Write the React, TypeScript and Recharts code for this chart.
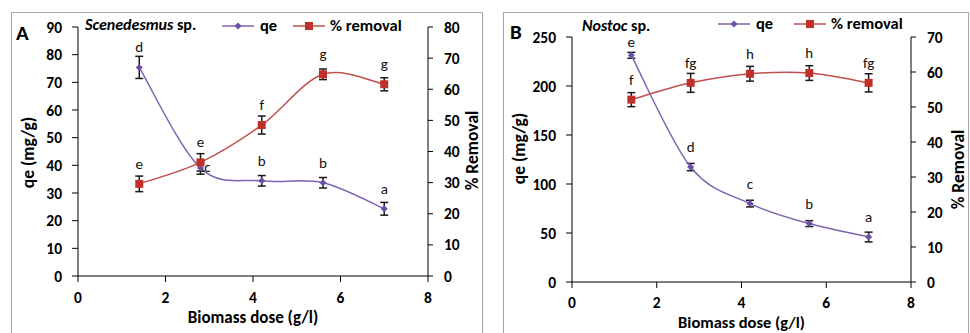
import { ComposedChart, Line, XAxis, YAxis, ErrorBar, LabelList, Label } from 'recharts';

const FONT = 'Carlito, Lato, "Open Sans", sans-serif';

const doses = [1.4, 2.8, 4.2, 5.6, 7.0];
const xTicks = [0, 2, 4, 6, 8];

// Scenedesmus sp.
const aQe = [75.4, 39.0, 34.4, 33.7, 24.3];
const aQeErr = [4.0, 2.2, 1.9, 1.9, 2.3];
const aQeLetters = ['d', 'c', 'b', 'b', 'a'];
const aRemoval = [29.6, 36.5, 48.5, 64.8, 61.6];
const aRemovalErr = [2.5, 2.8, 2.9, 1.7, 2.1];
const aRemovalLetters = ['e', 'e', 'f', 'g', 'g'];
const aQeTicks = [0, 10, 20, 30, 40, 50, 60, 70, 80, 90];
const aRemovalTicks = [0, 10, 20, 30, 40, 50, 60, 70, 80];

// Nostoc sp.
const bQe = [231.3, 117.3, 80.0, 59.6, 45.9];
const bQeErr = [3.0, 3.7, 3.4, 3.0, 5.0];
const bQeLetters = ['e', 'd', 'c', 'b', 'a'];
const bRemoval = [52.1, 56.9, 59.5, 59.7, 56.9];
const bRemovalErr = [2.0, 2.7, 2.1, 2.1, 2.6];
const bRemovalLetters = ['f', 'fg', 'h', 'h', 'fg'];
const bQeTicks = [0, 50, 100, 150, 200, 250];
const bRemovalTicks = [0, 10, 20, 30, 40, 50, 60, 70];

const QE_COLOR = '#7f63b3';
const QE_DOT = '#6a4fa3';
const REM_COLOR = '#c0504d';
const REM_DOT = '#c0302b';
const BAR_COLOR = '#1a1a1a';

// Excel-like smoothed line (Catmull-Rom as cubic beziers)
const excelSmooth = (context: any) => {
  let pts: number[][] = [];
  return {
    areaStart() {},
    areaEnd() {},
    lineStart() {
      pts = [];
    },
    point(x: number, y: number) {
      pts.push([+x, +y]);
    },
    lineEnd() {
      if (!pts.length) return;
      context.moveTo(pts[0][0], pts[0][1]);
      for (let i = 0; i < pts.length - 1; i++) {
        const p0 = pts[Math.max(i - 1, 0)];
        const p1 = pts[i];
        const p2 = pts[i + 1];
        const p3 = pts[Math.min(i + 2, pts.length - 1)];
        context.bezierCurveTo(
          p1[0] + (p2[0] - p0[0]) / 6,
          p1[1] + (p2[1] - p0[1]) / 6,
          p2[0] - (p3[0] - p1[0]) / 6,
          p2[1] - (p3[1] - p1[1]) / 6,
          p2[0],
          p2[1]
        );
      }
    },
  };
};

const diamondDot = (props: any) => {
  const { cx, cy, index } = props;
  const r = 3.5;
  return (
    <path
      key={`d-${index}`}
      d={`M${cx},${cy - r}L${cx + r},${cy}L${cx},${cy + r}L${cx - r},${cy}Z`}
      fill={QE_DOT}
    />
  );
};

const squareDot = (props: any) => {
  const { cx, cy, index } = props;
  return <rect key={`s-${index}`} x={cx - 4} y={cy - 4} width={8} height={8} fill={REM_DOT} />;
};

const letterLabel = (plotTop: number, sideIndex = -1) => (props: any) => {
  const x = props.x ?? props.viewBox?.x;
  const y = props.y ?? props.viewBox?.y;
  const { value, index } = props;
  let tx = x;
  let ty = Math.max(y - 15, plotTop + 10);
  if (index === sideIndex) {
    tx = x + 7;
    ty = y + 3.5;
  }
  return (
    <text key={`l-${index}`} x={tx} y={ty} textAnchor="middle" fontSize={15} fontFamily={FONT} fill="#111">
      {value}
    </text>
  );
};

const yTitle = (text: string, side: 'left' | 'right', inset: number, shift: number) => (props: any) => {
  const vb = props.viewBox;
  const cx = side === 'left' ? vb.x + inset : vb.x + vb.width - inset;
  const cy = vb.y + vb.height / 2 + shift;
  return (
    <text
      x={cx}
      y={cy}
      dy="0.36em"
      transform={`rotate(-90 ${cx} ${cy})`}
      textAnchor="middle"
      fontSize={17.5}
      fontWeight={700}
      fontFamily={FONT}
      fill="#000"
    >
      {text}
    </text>
  );
};

const xTitle = (below: number, size: number) => (props: any) => {
  const vb = props.viewBox;
  return (
    <text
      x={vb.x + vb.width / 2}
      y={vb.y + below}
      textAnchor="middle"
      fontSize={size}
      fontWeight={700}
      fontFamily={FONT}
      fill="#000"
    >
      Biomass dose (g/l)
    </text>
  );
};

const axisStroke = { stroke: '#000', strokeWidth: 1 };
const tickStyle = { fill: '#000', fontSize: 15.5, fontWeight: 700, fontFamily: FONT };

type PanelProps = {
  left: number;
  letter: string;
  species: string;
  qe: number[];
  qeErr: number[];
  qeLetters: string[];
  removal: number[];
  removalErr: number[];
  removalLetters: string[];
  qeTicks: number[];
  removalTicks: number[];
  margin: { top: number; right: number; bottom: number; left: number };
  leftWidth: number;
  rightWidth: number;
  xHeight: number;
  xTickMargin: number;
  xTitleBelow: number;
  xTitleSize: number;
  qeTitle: [number, number];
  remTitle: [number, number];
  sideIndex: number;
  border: [number, number];
  letterPos: [number, number];
  speciesPos: [number, number];
  legendY: number;
  legendQe: number;
  legendRem: number;
};

function Panel(p: PanelProps) {
  const data = doses.map((dose, i) => ({
    dose,
    qe: p.qe[i],
    qeErr: p.qeErr[i],
    qeLetter: p.qeLetters[i],
    removal: p.removal[i],
    removalErr: p.removalErr[i],
    removalLetter: p.removalLetters[i],
  }));
  const qeMax = p.qeTicks[p.qeTicks.length - 1];
  const remMax = p.removalTicks[p.removalTicks.length - 1];
  const ly = p.legendY;
  return (
    <div style={{ position: 'absolute', left: p.left, top: 0, width: 485, height: 333 }}>
      <ComposedChart width={485} height={333} data={data} margin={p.margin}>
        <XAxis
          type="number"
          dataKey="dose"
          domain={[0, 8]}
          ticks={xTicks}
          interval={0}
          height={p.xHeight}
          tickSize={6}
          tickMargin={p.xTickMargin}
          axisLine={axisStroke}
          tickLine={axisStroke}
          tick={tickStyle}
        >
          <Label content={xTitle(p.xTitleBelow, p.xTitleSize)} />
        </XAxis>
        <YAxis
          yAxisId="qe"
          domain={[0, qeMax]}
          ticks={p.qeTicks}
          interval={0}
          width={p.leftWidth}
          tickSize={6}
          tickMargin={10}
          axisLine={axisStroke}
          tickLine={axisStroke}
          tick={tickStyle}
        >
          <Label content={yTitle('qe (mg/g)', 'left', p.qeTitle[0], p.qeTitle[1])} />
        </YAxis>
        <YAxis
          yAxisId="rem"
          orientation="right"
          domain={[0, remMax]}
          ticks={p.removalTicks}
          interval={0}
          width={p.rightWidth}
          tickSize={5}
          tickMargin={11}
          axisLine={axisStroke}
          tickLine={axisStroke}
          tick={tickStyle}
        >
          <Label content={yTitle('% Removal', 'right', p.remTitle[0], p.remTitle[1])} />
        </YAxis>
        <Line
          yAxisId="qe"
          dataKey="qe"
          type={excelSmooth as any}
          stroke={QE_COLOR}
          strokeWidth={1.5}
          dot={diamondDot}
          activeDot={false}
          isAnimationActive={false}
        >
          <ErrorBar dataKey="qeErr" direction="y" width={4} stroke={BAR_COLOR} strokeWidth={1.5} />
          <LabelList dataKey="qeLetter" content={letterLabel(p.margin.top, p.sideIndex)} />
        </Line>
        <Line
          yAxisId="rem"
          dataKey="removal"
          type={excelSmooth as any}
          stroke={REM_COLOR}
          strokeWidth={1.5}
          dot={squareDot}
          activeDot={false}
          isAnimationActive={false}
        >
          <ErrorBar dataKey="removalErr" direction="y" width={4} stroke={BAR_COLOR} strokeWidth={1.5} />
          <LabelList dataKey="removalLetter" content={letterLabel(p.margin.top)} />
        </Line>
      </ComposedChart>
      <svg
        width={485}
        height={333}
        style={{ position: 'absolute', left: 0, top: 0, pointerEvents: 'none' }}
        fontFamily={FONT}
      >
        <path
          d={`M${p.border[0] + 0.5},340V12.5H${p.border[1] + 0.5}V340`}
          fill="none"
          stroke="#a6a6a6"
          strokeWidth={1}
        />
        <text x={p.letterPos[0]} y={p.letterPos[1]} fontSize={21} fontWeight={700} fill="#000">
          {p.letter}
        </text>
        <text x={p.speciesPos[0]} y={p.speciesPos[1]} fontSize={16} fontWeight={700} fill="#000">
          <tspan fontStyle="italic">{p.species}</tspan>
          <tspan> sp.</tspan>
        </text>
        <line x1={p.legendQe} x2={p.legendQe + 32} y1={ly} y2={ly} stroke={QE_COLOR} strokeWidth={1.5} />
        {diamondDot({ cx: p.legendQe + 16, cy: ly, index: 'lg' })}
        <text x={p.legendQe + 38} y={ly + 4.5} fontSize={16.5} fontWeight={700} fill="#000">
          qe
        </text>
        <line x1={p.legendRem} x2={p.legendRem + 32} y1={ly} y2={ly} stroke={REM_COLOR} strokeWidth={1.5} />
        {squareDot({ cx: p.legendRem + 16, cy: ly, index: 'lg' })}
        <text x={p.legendRem + 37} y={ly + 4.5} fontSize={16.5} fontWeight={700} fill="#000">
          % removal
        </text>
      </svg>
    </div>
  );
}

export default function App() {
  return (
    <div style={{ position: 'absolute', left: 0, top: 0, width: 970, height: 333, overflow: 'hidden', background: '#fff' }}>
      <Panel
        left={0}
        letter="A"
        species="Scenedesmus"
        qe={aQe}
        qeErr={aQeErr}
        qeLetters={aQeLetters}
        removal={aRemoval}
        removalErr={aRemovalErr}
        removalLetters={aRemovalLetters}
        qeTicks={aQeTicks}
        removalTicks={aRemovalTicks}
        margin={{ top: 27, right: 0, bottom: 7, left: 8 }}
        leftWidth={70}
        rightWidth={57}
        xHeight={50}
        xTickMargin={10}
        xTitleBelow={47}
        xTitleSize={17}
        qeTitle={[20, 1]}
        remTitle={[13, -1]}
        sideIndex={1}
        border={[11, 482]}
        letterPos={[16, 40]}
        speciesPos={[85, 29.5]}
        legendY={26}
        legendQe={222}
        legendRem={293}
      />
      <Panel
        left={485}
        letter="B"
        species="Nostoc"
        qe={bQe}
        qeErr={bQeErr}
        qeLetters={bQeLetters}
        removal={bRemoval}
        removalErr={bRemovalErr}
        removalLetters={bRemovalLetters}
        qeTicks={bQeTicks}
        removalTicks={bRemovalTicks}
        margin={{ top: 37, right: 0, bottom: 5, left: 7 }}
        leftWidth={80}
        rightWidth={59}
        xHeight={46}
        xTickMargin={9}
        xTitleBelow={46}
        xTitleSize={16.5}
        qeTitle={[27, -11]}
        remTitle={[12, 10]}
        sideIndex={-1}
        border={[18, 483]}
        letterPos={[25, 38.5]}
        speciesPos={[97, 30.5]}
        legendY={24}
        legendQe={233}
        legendRem={309}
      />
    </div>
  );
}
